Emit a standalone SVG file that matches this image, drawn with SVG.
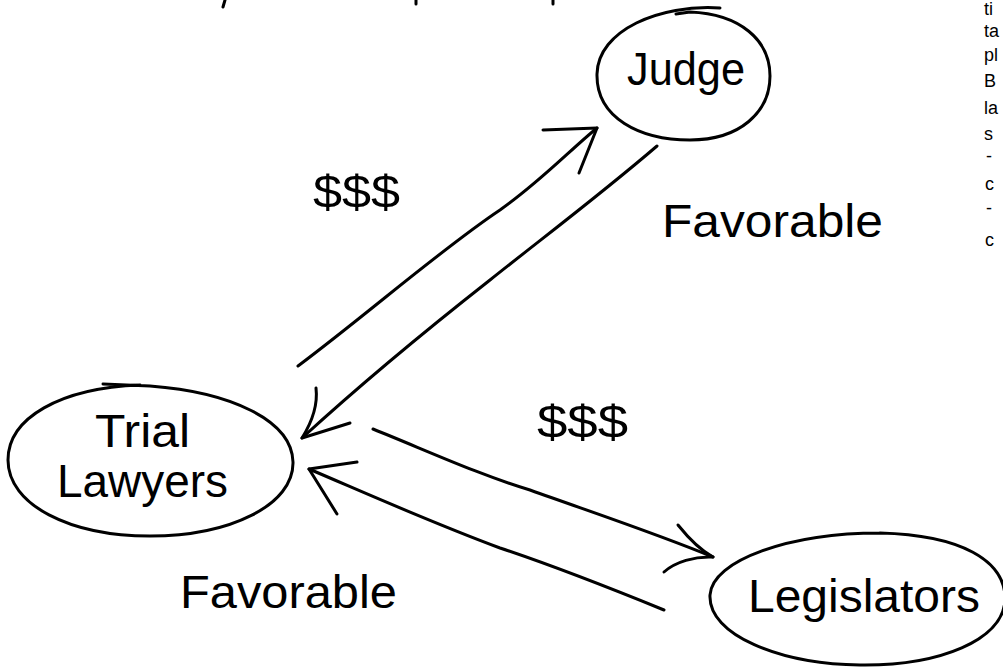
<svg xmlns="http://www.w3.org/2000/svg" width="1003" height="670" viewBox="0 0 1003 670">
<style>
.ln{fill:none;stroke:#000;stroke-width:3;stroke-linecap:round;stroke-linejoin:round}
.t{font-family:"Liberation Sans","DejaVu Sans",sans-serif;fill:#000}
.lbl{font-size:46px}
.frag{font-size:18px}
</style>
<rect width="1003" height="670" fill="#fff"/>
<g id="top-fragments">
<path class="ln" d="M225,0 L223,7 M416,0 L416,4 M553,0 L553,4"/>
</g>
<g id="node-judge">
<path class="ln" d="M720,8 C660,4 598,30 597,74 C596,118 640,140 690,140 C740,140 770,112 770,76 C770,40 740,14 690,12 L676,14"/>
<text class="t lbl" x="627" y="85" textLength="118" lengthAdjust="spacingAndGlyphs">Judge</text>
</g>
<g id="node-trial-lawyers">
<path class="ln" d="M103,384 L150,386 C230,392 292,420 293,462 C294,505 230,536 150,536 C70,536 8,505 8,460 C8,418 60,388 140,385"/>
<text class="t lbl" x="95" y="447" textLength="95" lengthAdjust="spacingAndGlyphs">Trial</text>
<text class="t lbl" x="57" y="497" textLength="171" lengthAdjust="spacingAndGlyphs">Lawyers</text>
</g>
<g id="node-legislators">
<path class="ln" d="M880,533 C790,533 712,560 710,595 C708,635 780,664 860,665 C940,666 1003,640 1005,600 C1006,560 960,535 880,533"/>
<text class="t lbl" x="748" y="612" textLength="232" lengthAdjust="spacingAndGlyphs">Legislators</text>
</g>
<g id="connectors">
<path class="ln" d="M298,366 C370,312 440,250 500,210 C540,182 570,150 597,128"/>
<path class="ln" d="M543,130 L597,128 L579,173"/>
<path class="ln" d="M657,146 C600,195 540,240 490,280 C420,335 360,385 302,438"/>
<path class="ln" d="M316,388 C318,405 312,422 302,438 L350,423"/>
<path class="ln" d="M373,429 C430,452 480,475 530,490 C600,515 660,535 713,557"/>
<path class="ln" d="M678,525 C690,540 700,550 713,557 C695,556 675,562 664,572"/>
<path class="ln" d="M664,610 C610,588 560,568 500,548 C430,522 370,495 309,469"/>
<path class="ln" d="M357,462 L309,469 L337,514"/>
</g>
<g id="labels">
<text class="t lbl" x="313" y="208" textLength="87" lengthAdjust="spacingAndGlyphs">$$$</text>
<text class="t lbl" x="537" y="438" textLength="91" lengthAdjust="spacingAndGlyphs">$$$</text>
<text class="t lbl" x="662" y="237" textLength="221" lengthAdjust="spacingAndGlyphs">Favorable</text>
<text class="t lbl" x="180" y="608" textLength="217" lengthAdjust="spacingAndGlyphs">Favorable</text>
</g>
<g id="right-fragments">
<text class="t frag" x="984" y="15">ti</text>
<text class="t frag" x="984" y="37">ta</text>
<text class="t frag" x="984" y="61">pl</text>
<text class="t frag" x="984" y="87">B</text>
<text class="t frag" x="984" y="114">la</text>
<text class="t frag" x="984" y="140">s</text>
<text class="t frag" x="986" y="162">-</text>
<text class="t frag" x="985" y="190">c</text>
<text class="t frag" x="986" y="214">-</text>
<text class="t frag" x="985" y="246">c</text>
</g>
</svg>
